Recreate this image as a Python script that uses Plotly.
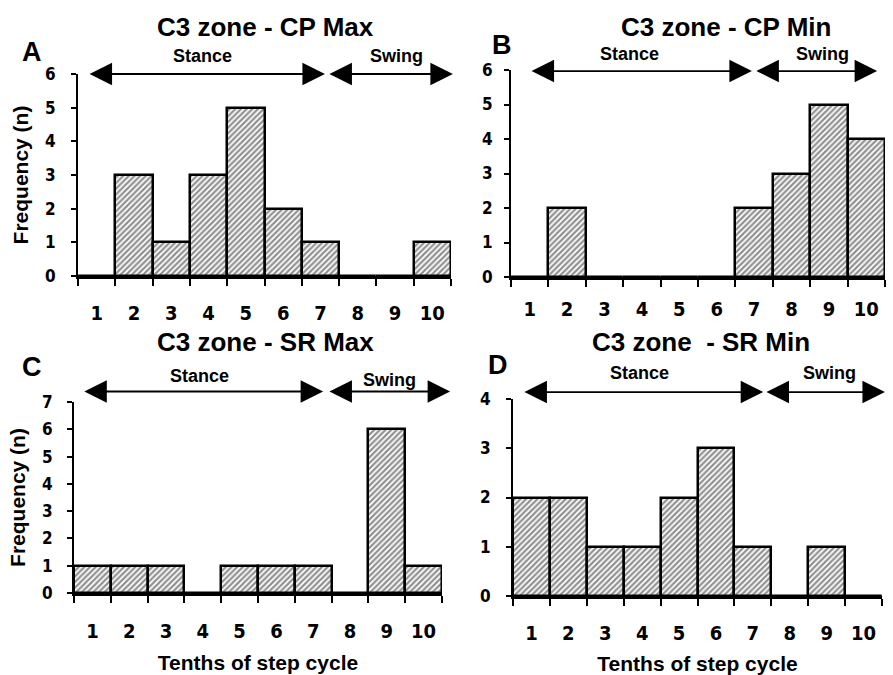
import plotly.graph_objects as go

bins = [1, 2, 3, 4, 5, 6, 7, 8, 9, 10]
tick_labels = ["1", "2", "3", "4", "5", "6", "7", "8", "9", "10"]
cp_max = [0, 3, 1, 3, 5, 2, 1, 0, 0, 1]
cp_min = [0, 2, 0, 0, 0, 0, 2, 3, 5, 4]
sr_max = [1, 1, 1, 0, 1, 1, 1, 0, 6, 1]
sr_min = [2, 2, 1, 1, 2, 3, 1, 0, 1, 0]
titles = ["C3 zone - CP Max", "C3 zone - CP Min", "C3 zone - SR Max", "C3 zone  - SR Min"]
letters = ["A", "B", "C", "D"]
y_max = [6, 6, 7, 4]
series = [cp_max, cp_min, sr_max, sr_min]

W, H = 893, 675
# pixel boxes of the plot areas: (left, right, top, bottom)
boxes = [(78, 451, 74, 276), (511, 885, 70, 277), (74, 442, 402, 593), (513, 882, 399, 596)]
title_pos = [(265, 27), (726, 27), (265, 342), (701, 342)]
letter_pos = [(32, 52), (502, 45), (32, 367), (498, 365)]
x_label_standoff = [17, 12, 18, 17]
y_label_standoff = [12, 8, 11, 12]
# arrows: x in data units, y as fraction of the plot-area height
arrows = [(0.77, 7.12, 7.20, 10.55, 1.0), (1.01, 6.94, 7.02, 10.29, 0.995),
          (0.74, 7.27, 7.40, 10.72, 1.055), (0.77, 7.28, 7.33, 10.58, 1.035)]
phase_lbl = [((3.85, 1.09), (9.05, 1.09)), ((3.68, 1.078), (8.84, 1.078)),
             ((3.92, 1.137), (9.08, 1.116)), ((3.94, 1.132), (9.09, 1.132))]

NARROW = "DejaVu Sans Condensed, Liberation Sans Narrow, Arial Narrow, sans-serif"
SANS = "Liberation Sans, Arial, Helvetica, sans-serif"

fig = go.Figure()
layout = dict(width=W, height=H, margin=dict(l=0, r=0, t=0, b=0, autoexpand=False),
              paper_bgcolor="white", plot_bgcolor="white", showlegend=False,
              bargap=0, annotations=[])

for i in range(4):
    k = "" if i == 0 else str(i + 1)
    xa, ya = "x" + k, "y" + k
    fig.add_trace(go.Bar(
        x=bins, y=series[i], width=1, xaxis=xa, yaxis=ya,
        marker=dict(color="white", line=dict(color="black", width=2.5),
                    pattern=dict(shape="/", fgcolor="#222222", bgcolor="white",
                                 size=4, solidity=0.55)),
        hoverinfo="x+y"))
    l, r, t, b = boxes[i]
    layout["xaxis" + k] = dict(
        domain=[l / W, r / W], anchor=ya, range=[0.5, 10.5], automargin=False,
        tickvals=bins, ticktext=tick_labels, ticks="", ticklabelstandoff=x_label_standoff[i],
        tickfont=dict(family=NARROW, size=20, color="black", weight="bold"),
        showline=True, linecolor="black", linewidth=2.5, showgrid=False, zeroline=False,
        minor=dict(tickvals=[v - 0.5 for v in bins] + [bins[-1] + 0.5],
                   ticks="outside", ticklen=7, tickwidth=2, tickcolor="black", showgrid=False),
        title=dict(text="Tenths of step cycle" if i >= 2 else "",
                   font=dict(family=SANS, size=21, color="black", weight="bold"), standoff=14))
    layout["yaxis" + k] = dict(
        domain=[1 - b / H, 1 - t / H], anchor=xa, range=[0, y_max[i]], dtick=1,
        automargin=False,
        ticks="outside", ticklen=5, tickwidth=2, tickcolor="black",
        ticklabelstandoff=y_label_standoff[i],
        tickfont=dict(family=NARROW, size=17, color="black", weight="bold"),
        showline=True, linecolor="black", linewidth=2, showgrid=False, zeroline=False,
        title=dict(text="Frequency (n)" if i % 2 == 0 else "",
                   font=dict(family=SANS, size=21, color="black", weight="bold"), standoff=11))
    ann = layout["annotations"]
    tx, ty = title_pos[i]
    ann.append(dict(text=titles[i], x=tx / W, y=1 - ty / H, xref="paper", yref="paper",
                    xanchor="center", yanchor="middle", showarrow=False,
                    font=dict(family=SANS, size=26, color="black", weight="bold")))
    lx, ly = letter_pos[i]
    ann.append(dict(text=letters[i], x=lx / W, y=1 - ly / H, xref="paper", yref="paper",
                    xanchor="center", yanchor="middle", showarrow=False,
                    font=dict(family=SANS, size=27, color="black", weight="bold")))
    s0, s1, w0, w1, ay = arrows[i]
    for (a0, a1) in ((s0, s1), (w0, w1)):
        ann.append(dict(text="", x=a1, y=ay, ax=a0, ay=ay, xref=xa, yref=ya + " domain",
                        axref=xa, ayref=ya + " domain",
                        showarrow=True, arrowside="end+start", arrowhead=2, startarrowhead=2,
                        arrowsize=2.5, startarrowsize=2.5, arrowwidth=1.8, arrowcolor="black",
                        standoff=0, startstandoff=0))
    for name, (px, py) in zip(["Stance", "Swing"], phase_lbl[i]):
        ann.append(dict(text=name, x=px, y=py, xref=xa, yref=ya + " domain",
                        xanchor="center", yanchor="middle", showarrow=False,
                        font=dict(family=SANS, size=18, color="black", weight="bold")))

fig.update_layout(**layout)
fig.write_html("out.html", config={"displayModeBar": False},
               post_script="document.body.style.margin='0';")
